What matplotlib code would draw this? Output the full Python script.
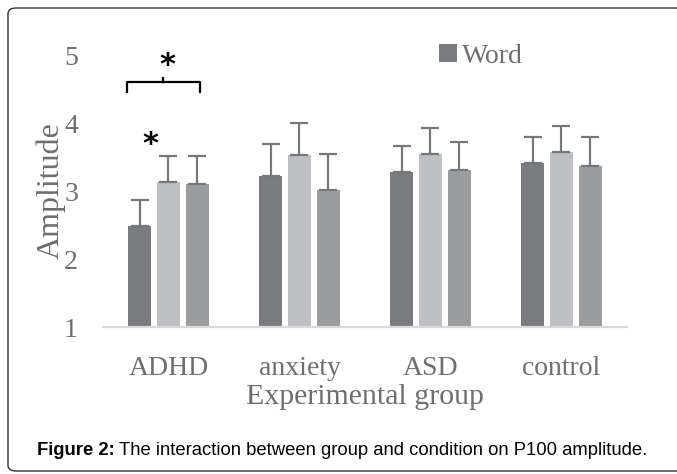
import matplotlib
matplotlib.use("Agg")
import matplotlib.pyplot as plt
from matplotlib.patches import FancyBboxPatch
import numpy as np

plt.rcParams.update({
    "font.family": "serif",
    "font.serif": ["Liberation Serif", "DejaVu Serif"],
})

groups = ["ADHD", "anxiety", "ASD", "control"]
word   = [2.49, 3.22, 3.28, 3.41]
cond2  = [3.13, 3.53, 3.54, 3.57]
cond3  = [3.10, 3.01, 3.31, 3.37]
err_word  = [0.38, 0.47, 0.38, 0.38]
err_cond2 = [0.38, 0.47, 0.38, 0.39]
err_cond3 = [0.41, 0.53, 0.41, 0.42]
yticks = [1, 2, 3, 4, 5]

DARK = "#7a7b7f"; LIGHT = "#bebfc2"; MID = "#9b9c9e"
ERR = "#76777b"; TXT = "#6e6e72"

fig = plt.figure(figsize=(6.77, 4.74), dpi=100)
ax = fig.add_axes([0.1521, 0.3101, 0.774, 0.5738])

x = np.arange(len(groups)); w = 0.172; step = 0.221
series = [(word, err_word, DARK, "Word"), (cond2, err_cond2, LIGHT, None), (cond3, err_cond3, MID, None)]
for i, (vals, errs, col, lab) in enumerate(series):
    xs = x + (i - 1) * step
    ax.bar(xs, np.array(vals) - 1, w, bottom=1, color=col, label=lab, zorder=2)
    ax.errorbar(xs, vals, yerr=[np.zeros(len(errs)), errs], fmt="none", ecolor=ERR,
                elinewidth=1.6, capsize=6.5, capthick=1.6, zorder=3)

ax.set_xlim(-0.5, 3.5); ax.set_ylim(1, 5)
ax.set_xticks(x); ax.set_xticklabels(groups)
ax.set_yticks(yticks); ax.set_yticklabels([str(t) for t in yticks])
ax.tick_params(axis="both", length=0, labelsize=20, labelcolor=TXT)
ax.tick_params(axis="y", pad=18)
ax.tick_params(axis="x", pad=21)
for s in ["top", "right", "left"]:
    ax.spines[s].set_visible(False)
ax.spines["bottom"].set_color("#d9d9d9"); ax.spines["bottom"].set_linewidth(1.6)

ax.set_xlabel("Experimental group", fontsize=21.5, color=TXT, labelpad=2)
ax.set_ylabel("Amplitude", fontsize=23, color=TXT, va="center")
ax.yaxis.set_label_coords(-0.099, 0.5)

ax.legend(loc="center left", bbox_to_anchor=(0.593, 0.995), frameon=False, fontsize=20,
          handlelength=0.65, handleheight=0.65, handletextpad=0.2, labelcolor=TXT)

# significance markers
ax.plot([-0.317, -0.317, 0.24, 0.24], [4.46, 4.60, 4.60, 4.46], color="black", lw=1.6, clip_on=False)
ax.plot([-0.038, -0.038], [4.60, 4.66], color="black", lw=1.6, clip_on=False)
ax.text(-0.01, 4.84, "*", ha="center", va="center", fontsize=22, fontweight="bold",
        family="DejaVu Sans", color="black", clip_on=False)
ax.text(-0.14, 3.69, "*", ha="center", va="center", fontsize=22, fontweight="bold",
        family="DejaVu Sans", color="black", clip_on=False)

# caption
cap1 = fig.text(37 / 677, 1 - 455 / 474, "Figure 2:", fontsize=13.3, fontweight="bold",
                family="Liberation Sans", color="black", va="baseline")
fig.canvas.draw()
bb = cap1.get_window_extent()
fig.text(bb.x1 / 677 + 4 / 677, 1 - 455 / 474,
         "The interaction between group and condition on P100 amplitude.",
         fontsize=13.3, family="Liberation Sans", color="black", va="baseline")

# rounded frame
frame = FancyBboxPatch((8 / 677, 3 / 474), 1.0, 1 - 11 / 474, boxstyle="round,pad=0,rounding_size=0.012",
                       transform=fig.transFigure, fill=False, edgecolor="#333333", lw=1.0)
fig.patches.append(frame)

fig.savefig("out.png", dpi=100)
